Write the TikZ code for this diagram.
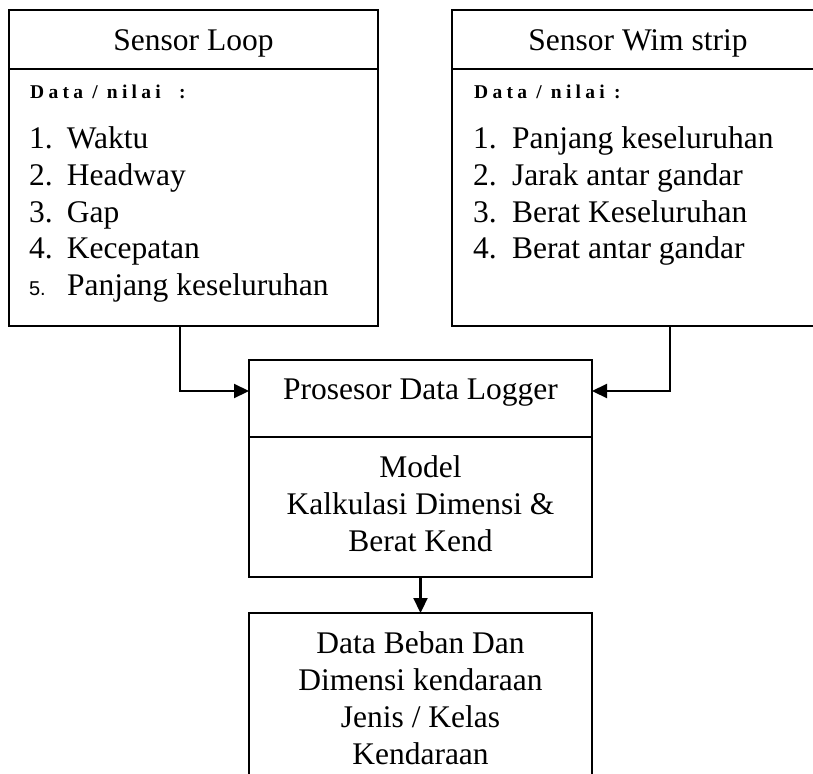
\documentclass[tikz,border=0pt]{standalone}
\usepackage{fontspec}
\setmainfont{Liberation Serif}
\newfontfamily\numsans{Liberation Sans}
\newfontfamily\databold[LetterSpace=22]{Liberation Serif}
\usetikzlibrary{arrows.meta}
\begin{document}
\begin{tikzpicture}[x=1pt,y=1pt,
  box/.style={draw,line width=2.2pt,rectangle,inner sep=0pt,outer sep=0pt},
  txt/.style={inner sep=0pt,outer sep=0pt,font=\fontsize{31.5}{37}\selectfont},
  item/.style={txt,anchor=base west},
  datalbl/.style={inner sep=0pt,anchor=base west,font=\databold\bfseries\fontsize{19.5}{22}\selectfont},
  arr/.style={line width=2.2pt,-{Triangle[length=15pt,width=14pt]}}]
\useasboundingbox (0,0) rectangle (813,-773);
% Sensor Loop box
\node[box,minimum width=369pt,minimum height=59pt] (loophead) at (193.5,-39.5) {};
\node[box,minimum width=369pt,minimum height=257pt,anchor=north] (loopbody) at (loophead.south) {};
\node[txt,anchor=base] (looptitle) at (193.5,-51) {Sensor Loop};
\node[datalbl] (loopdata) at (30,-99) {Data / nilai \ :};
\node[item] (l1) at (29,-148) {\makebox[38pt][l]{1.}Waktu};
\node[item] (l2) at (29,-185) {\makebox[38pt][l]{2.}Headway};
\node[item] (l3) at (29,-222) {\makebox[38pt][l]{3.}Gap};
\node[item] (l4) at (29,-258) {\makebox[38pt][l]{4.}Kecepatan};
\node[item] (l5) at (29,-295) {\makebox[38pt][l]{\numsans\fontsize{20}{24}\selectfont 5.}Panjang keseluruhan};
% Sensor Wim strip box
\node[box,minimum width=364pt,minimum height=59pt] (wimhead) at (634,-39.5) {};
\node[box,minimum width=364pt,minimum height=257pt,anchor=north] (wimbody) at (wimhead.south) {};
\node[txt,anchor=base] (wimtitle) at (638,-51) {Sensor Wim strip};
\node[datalbl] (wimdata) at (474,-99) {Data / nilai :};
\node[item] (w1) at (473,-148) {\makebox[39pt][l]{1.}Panjang keseluruhan};
\node[item] (w2) at (473,-185) {\makebox[39pt][l]{2.}Jarak antar gandar};
\node[item] (w3) at (473,-222) {\makebox[39pt][l]{3.}Berat Keseluruhan};
\node[item] (w4) at (473,-258) {\makebox[39pt][l]{4.}Berat antar gandar};
% Prosesor box
\node[box,minimum width=343pt,minimum height=77pt] (prochead) at (420.5,-398.5) {};
\node[box,minimum width=343pt,minimum height=140pt,anchor=north] (procbody) at (prochead.south) {};
\node[txt,anchor=base] (proctitle) at (420.5,-399) {Prosesor Data Logger};
\node[txt,anchor=base] (m1) at (420.5,-477) {Model};
\node[txt,anchor=base] (m2) at (420.5,-514) {Kalkulasi Dimensi \&};
\node[txt,anchor=base] (m3) at (420.5,-551) {Berat Kend};
% Output box
\node[box,minimum width=343pt,minimum height=190pt,anchor=north] (outbox) at (420.5,-613) {};
\node[txt,anchor=base] (o1) at (420.5,-653) {Data Beban Dan};
\node[txt,anchor=base] (o2) at (420.5,-690) {Dimensi kendaraan};
\node[txt,anchor=base] (o3) at (420.5,-727) {Jenis / Kelas};
\node[txt,anchor=base] (o4) at (420.5,-764) {Kendaraan};
% connectors
\draw[arr] ([xshift=-13.5pt]loopbody.south) |- ([yshift=7.5pt]prochead.west);
\draw[arr] ([xshift=36pt]wimbody.south) |- ([yshift=7.5pt]prochead.east);
\draw[arr] (procbody.south) -- (outbox.north);
\end{tikzpicture}
\end{document}
